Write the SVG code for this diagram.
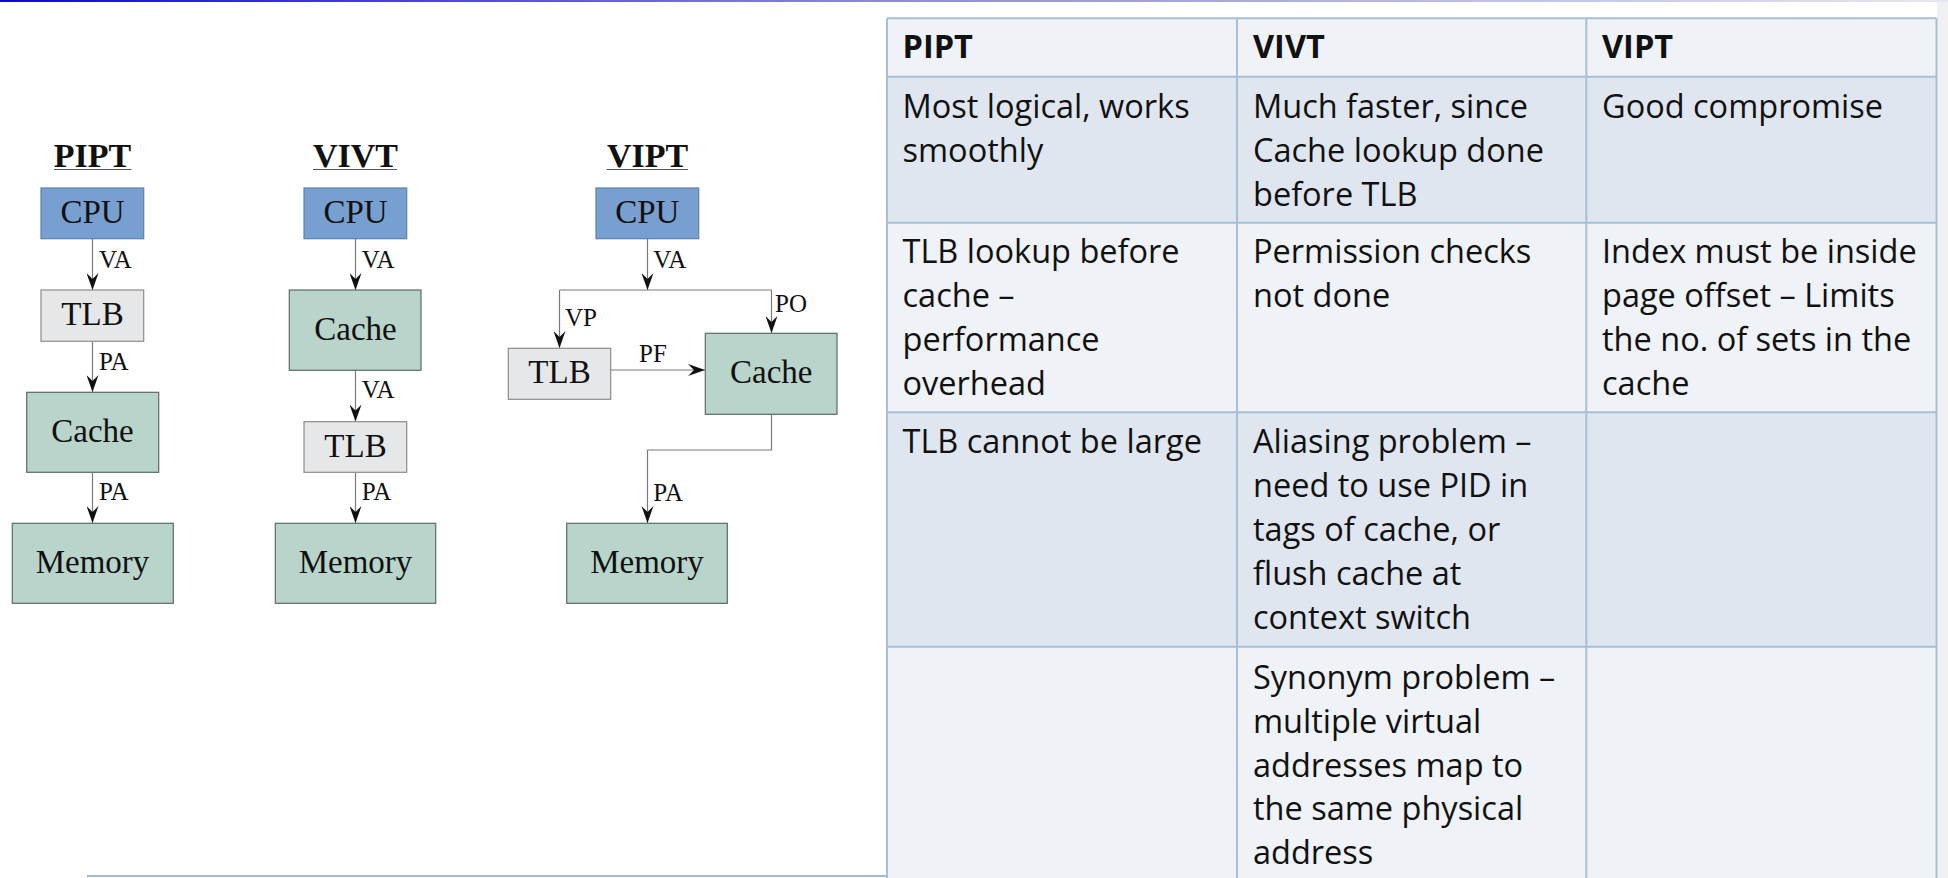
<svg xmlns="http://www.w3.org/2000/svg" width="1948" height="878" viewBox="0 0 1948 878">
<defs>
  <linearGradient id="topbar" x1="0" x2="1" y1="0" y2="0">
    <stop offset="0" stop-color="#0b0bc2"/>
    <stop offset="0.45" stop-color="#8a8ad8"/>
    <stop offset="1" stop-color="#e6e6f3"/>
  </linearGradient>
  <marker id="ah" viewBox="0 0 17 12" refX="17" refY="6" markerWidth="17" markerHeight="12" markerUnits="userSpaceOnUse" orient="auto">
    <path d="M0,0 L17,6 L0,12 L6,6 Z" fill="#111"/>
  </marker>
</defs>
<style>
 .title{font-family:"Liberation Serif",serif;font-weight:bold;font-size:34px;text-anchor:middle;fill:#111}
 .nt{font-family:"Liberation Serif",serif;font-size:33px;text-anchor:middle;fill:#111}
 .lbl{font-family:"Liberation Serif",serif;font-size:25px;fill:#111}
 .cpu{fill:#779fcf;stroke:#5a80b2;stroke-width:1.2}
 .tlb{fill:#e6e7e9;stroke:#8c8c8c;stroke-width:1.2}
 .grn{fill:#b8d4cb;stroke:#5d6b67;stroke-width:1.2}
 .ul{stroke:#555;stroke-width:1}
 .conn{fill:none;stroke:#7a7a7a;stroke-width:1.2}
 .arr{marker-end:url(#ah)}
 .cell{font-family:"Open Sans","Liberation Sans",sans-serif;font-size:32.5px;fill:#111}
 .hd{font-weight:bold}
 .rl{fill:#eff2f7}
 .rd{fill:#dfe6ef}
 .grid{stroke:#a9bfd6;stroke-width:2;fill:none}
</style>
<rect x="0" y="0" width="1948" height="878" fill="#ffffff"/>
<rect x="0" y="0" width="1948" height="2" fill="url(#topbar)"/>
<rect x="1937" y="2" width="11" height="876" fill="#eff0f4"/>
<line x1="87" y1="876" x2="887" y2="876" stroke="#a6bad2" stroke-width="2"/>

<!-- titles -->
<g id="titles">
  <text class="title" x="92.5" y="166.5">PIPT</text>
  <line class="ul" x1="54" y1="169.5" x2="131.5" y2="169.5"/>
  <text class="title" x="355.5" y="166.5">VIVT</text>
  <line class="ul" x1="313" y1="169.5" x2="397" y2="169.5"/>
  <text class="title" x="647.5" y="166.5">VIPT</text>
  <line class="ul" x1="606.5" y1="169.5" x2="688" y2="169.5"/>
</g>

<!-- connectors -->
<g id="connectors">
  <path class="conn arr" d="M92.5,239 V290"/>
  <path class="conn arr" d="M92.5,341.5 V392"/>
  <path class="conn arr" d="M92.5,472.5 V523"/>
  <path class="conn arr" d="M355.5,239 V290"/>
  <path class="conn arr" d="M355.5,370.5 V421.5"/>
  <path class="conn arr" d="M355.5,472.5 V523"/>
  <path class="conn arr" d="M647.5,239 V290"/>
  <path class="conn" d="M559.5,290 H771.5"/>
  <path class="conn arr" d="M559.5,290 V348"/>
  <path class="conn arr" d="M771.5,290 V333"/>
  <path class="conn arr" d="M610.7,370 H705"/>
  <path class="conn arr" d="M771.5,414.5 V450 H647.5 V523"/>
  <text class="lbl" x="99" y="267.7">VA</text>
  <text class="lbl" x="99" y="370">PA</text>
  <text class="lbl" x="99" y="500">PA</text>
  <text class="lbl" x="361.7" y="267.7">VA</text>
  <text class="lbl" x="361.7" y="398.3">VA</text>
  <text class="lbl" x="361.7" y="500">PA</text>
  <text class="lbl" x="653.3" y="267.7">VA</text>
  <text class="lbl" x="565" y="326">VP</text>
  <text class="lbl" x="775" y="311.7">PO</text>
  <text class="lbl" x="639" y="362.3">PF</text>
  <text class="lbl" x="653.3" y="501">PA</text>
</g>

<!-- PIPT nodes -->
<g id="pipt-cpu"><rect class="cpu" x="41" y="188" width="102.7" height="50.7"/><text class="nt" x="92.5" y="223.3">CPU</text></g>
<g id="pipt-tlb"><rect class="tlb" x="41" y="290" width="102.7" height="51.3"/><text class="nt" x="92.5" y="325">TLB</text></g>
<g id="pipt-cache"><rect class="grn" x="26.7" y="392.3" width="132" height="80"/><text class="nt" x="92.5" y="441.7">Cache</text></g>
<g id="pipt-memory"><rect class="grn" x="12.3" y="523.3" width="161" height="80"/><text class="nt" x="92.5" y="573.3">Memory</text></g>

<!-- VIVT nodes -->
<g id="vivt-cpu"><rect class="cpu" x="304" y="188" width="102.7" height="50.7"/><text class="nt" x="355.5" y="223.3">CPU</text></g>
<g id="vivt-cache"><rect class="grn" x="289.3" y="290" width="131.7" height="80.3"/><text class="nt" x="355.5" y="340">Cache</text></g>
<g id="vivt-tlb"><rect class="tlb" x="304" y="421.7" width="102.7" height="50.6"/><text class="nt" x="355.5" y="456.7">TLB</text></g>
<g id="vivt-memory"><rect class="grn" x="275.3" y="523.3" width="160.4" height="80"/><text class="nt" x="355.5" y="573.3">Memory</text></g>

<!-- VIPT nodes -->
<g id="vipt-cpu"><rect class="cpu" x="596" y="188" width="102.7" height="50.7"/><text class="nt" x="647.3" y="223.3">CPU</text></g>
<g id="vipt-tlb"><rect class="tlb" x="508.3" y="348.3" width="102.4" height="51"/><text class="nt" x="559.5" y="383.3">TLB</text></g>
<g id="vipt-cache"><rect class="grn" x="705.3" y="333.3" width="131.7" height="81"/><text class="nt" x="771.2" y="383.3">Cache</text></g>
<g id="vipt-memory"><rect class="grn" x="566.7" y="523.3" width="160.6" height="80"/><text class="nt" x="647" y="573.3">Memory</text></g>

<!-- comparison table -->
<g id="table">
  <rect class="rl" x="887" y="18.3" width="1049.5" height="58.4"/>
  <rect class="rd" x="887" y="76.7" width="1049.5" height="146"/>
  <rect class="rl" x="887" y="222.7" width="1049.5" height="189.6"/>
  <rect class="rd" x="887" y="412.3" width="1049.5" height="234.4"/>
  <rect class="rl" x="887" y="646.7" width="1049.5" height="240"/>
  <path class="grid" d="M887,18.3 H1936.5 M887,76.7 H1936.5 M887,222.7 H1936.5 M887,412.3 H1936.5 M887,646.7 H1936.5 M887,18.3 V880 M1237,18.3 V880 M1586.3,18.3 V880 M1936.5,18.3 V880"/>
  <text class="cell hd" x="902.5" y="58.3">PIPT</text>
  <text class="cell hd" x="1253" y="58.3">VIVT</text>
  <text class="cell hd" x="1602" y="58.3">VIPT</text>
  <text class="cell" y="118.3"><tspan x="902.5">Most logical, works</tspan><tspan x="902.5" dy="43.8">smoothly</tspan></text>
  <text class="cell" y="118.3"><tspan x="1253">Much faster, since</tspan><tspan x="1253" dy="43.8">Cache lookup done</tspan><tspan x="1253" dy="43.8">before TLB</tspan></text>
  <text class="cell" y="118.3"><tspan x="1602">Good compromise</tspan></text>
  <text class="cell" y="263.3"><tspan x="902.5">TLB lookup before</tspan><tspan x="902.5" dy="43.8">cache –</tspan><tspan x="902.5" dy="43.8">performance</tspan><tspan x="902.5" dy="43.8">overhead</tspan></text>
  <text class="cell" y="263.3"><tspan x="1253">Permission checks</tspan><tspan x="1253" dy="43.8">not done</tspan></text>
  <text class="cell" y="263.3"><tspan x="1602">Index must be inside</tspan><tspan x="1602" dy="43.8">page offset – Limits</tspan><tspan x="1602" dy="43.8">the no. of sets in the</tspan><tspan x="1602" dy="43.8">cache</tspan></text>
  <text class="cell" y="453.3"><tspan x="902.5">TLB cannot be large</tspan></text>
  <text class="cell" y="453.3"><tspan x="1253">Aliasing problem –</tspan><tspan x="1253" dy="43.8">need to use PID in</tspan><tspan x="1253" dy="43.8">tags of cache, or</tspan><tspan x="1253" dy="43.8">flush cache at</tspan><tspan x="1253" dy="43.8">context switch</tspan></text>
  <text class="cell" y="689"><tspan x="1253">Synonym problem –</tspan><tspan x="1253" dy="43.8">multiple virtual</tspan><tspan x="1253" dy="43.8">addresses map to</tspan><tspan x="1253" dy="43.8">the same physical</tspan><tspan x="1253" dy="43.8">address</tspan></text>
</g>
</svg>
